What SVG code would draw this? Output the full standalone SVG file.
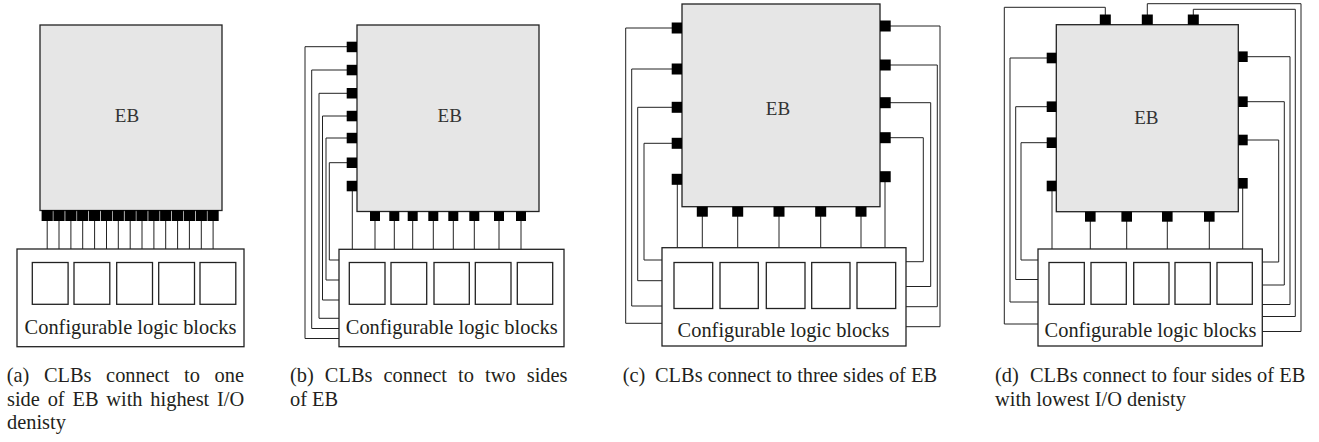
<svg xmlns="http://www.w3.org/2000/svg" width="1319" height="442" viewBox="0 0 1319 442">
<style>
.eb{fill:#e6e6e6;stroke:#222;stroke-width:1.3}
.pad{fill:#000}
.clb{fill:#fff;stroke:#222;stroke-width:1.3}
.cell{fill:#fff;stroke:#222;stroke-width:1.3}
.wire{fill:none;stroke:#222;stroke-width:1}
.t{font-family:"Liberation Serif","Times New Roman",serif;font-size:20.4px;fill:#231f20}
.ebt{font-family:"Liberation Serif","Times New Roman",serif;font-size:19px;fill:#333;text-anchor:middle}
.mid{text-anchor:middle}
</style>
<rect width="1319" height="442" fill="#fff"/>

<!-- ================= Panel (a) ================= -->
<g id="a-connectors" class="wire">
<path d="M47.2,221V249M59,221V249M70.9,221V249M82.7,221V249M94.6,221V249M106.5,221V249M118.3,221V249M130.2,221V249M142,221V249M153.9,221V249M165.7,221V249M177.6,221V249M189.4,221V249M201.3,221V249M213.1,221V249"/>
</g>
<g id="a-eb">
<rect class="eb" x="40" y="25" width="182" height="185.5"/>
<text class="ebt" x="127" y="122">EB</text>
<g class="pad">
<rect x="41.6" y="210" width="11.2" height="11"/><rect x="53.4" y="210" width="11.2" height="11"/><rect x="65.3" y="210" width="11.2" height="11"/><rect x="77.1" y="210" width="11.2" height="11"/><rect x="89" y="210" width="11.2" height="11"/><rect x="100.9" y="210" width="11.2" height="11"/><rect x="112.7" y="210" width="11.2" height="11"/><rect x="124.6" y="210" width="11.2" height="11"/><rect x="136.4" y="210" width="11.2" height="11"/><rect x="148.3" y="210" width="11.2" height="11"/><rect x="160.1" y="210" width="11.2" height="11"/><rect x="172" y="210" width="11.2" height="11"/><rect x="183.8" y="210" width="11.2" height="11"/><rect x="195.7" y="210" width="11.2" height="11"/><rect x="207.5" y="210" width="11.2" height="11"/>
</g>
</g>
<g id="a-clb">
<rect class="clb" x="17" y="249" width="227" height="97.7"/>
<rect class="cell" x="32.3" y="262.5" width="35.8" height="41.8"/>
<rect class="cell" x="74" y="262.5" width="35.8" height="41.8"/>
<rect class="cell" x="116.7" y="262.5" width="35.8" height="41.8"/>
<rect class="cell" x="158.7" y="262.5" width="35.8" height="41.8"/>
<rect class="cell" x="200" y="262.5" width="35.8" height="41.8"/>
<text class="t mid" x="130.5" y="334">Configurable logic blocks</text>
</g>
<g id="a-caption" class="t">
<text x="6.7" y="382" style="word-spacing:9.5px">(a) CLBs connect to one</text>
<text x="7" y="405.5" style="word-spacing:2.7px">side of EB with highest I/O</text>
<text x="7" y="429">denisty</text>
</g>

<!-- ================= Panel (b) ================= -->
<g id="b-connectors" class="wire">
<path d="M347,46.7H305V338.5H339"/>
<path d="M347,70H311.7V328.5H339"/>
<path d="M347,93.3H319H319V318.3H339"/>
<path d="M347,116H322.5V300H339"/>
<path d="M347,138H326V280H339"/>
<path d="M347,162.7H329.3V260H339"/>
<path d="M352.3,190V249.3"/>
<path d="M375,221V249.3M394.3,221V249.3M412.7,221V249.3M433.3,221V249.3M453.3,221V249.3M474.3,221V249.3M499,221V249.3M521,221V249.3"/>
</g>
<g id="b-eb">
<rect class="eb" x="357" y="25" width="182" height="186.5"/>
<text class="ebt" x="449.7" y="122.3">EB</text>
<g class="pad">
<rect x="346.7" y="41.7" width="10.3" height="10.5"/>
<rect x="346.7" y="64.8" width="10.3" height="10.5"/>
<rect x="346.7" y="88" width="10.3" height="10.5"/>
<rect x="346.7" y="110.8" width="10.3" height="10.5"/>
<rect x="346.7" y="132.8" width="10.3" height="10.5"/>
<rect x="346.7" y="157.5" width="10.3" height="10.5"/>
<rect x="346.7" y="180.8" width="10.3" height="10.5"/>
<rect x="370" y="211.5" width="10" height="9.5"/>
<rect x="389.3" y="211.5" width="10" height="9.5"/>
<rect x="407.7" y="211.5" width="10" height="9.5"/>
<rect x="428.3" y="211.5" width="10" height="9.5"/>
<rect x="448.3" y="211.5" width="10" height="9.5"/>
<rect x="469.3" y="211.5" width="10" height="9.5"/>
<rect x="494" y="211.5" width="10" height="9.5"/>
<rect x="516" y="211.5" width="10" height="9.5"/>
</g>
</g>
<g id="b-clb">
<rect class="clb" x="339" y="249.3" width="225" height="97.4"/>
<rect class="cell" x="349.3" y="262.5" width="35.7" height="41.8"/>
<rect class="cell" x="391" y="262.5" width="35.7" height="41.8"/>
<rect class="cell" x="434" y="262.5" width="35.3" height="41.8"/>
<rect class="cell" x="475.3" y="262.5" width="35.7" height="41.8"/>
<rect class="cell" x="517.3" y="262.5" width="35.4" height="41.8"/>
<text class="t mid" x="451.7" y="334">Configurable logic blocks</text>
</g>
<g id="b-caption" class="t">
<text x="290" y="382" style="word-spacing:6px">(b) CLBs connect to two sides</text>
<text x="290" y="405.5">of EB</text>
</g>

<!-- ================= Panel (c) ================= -->
<g id="c-connectors" class="wire">
<path d="M672,28H625.7V323.3H662"/>
<path d="M672,69H631.7V306H662"/>
<path d="M672,107.3H637.7V280.7H662"/>
<path d="M672,143.3H644V260H662"/>
<path d="M677.3,184V247.7"/>
<path d="M702.3,216V247.7M737.7,216V247.7M779,216V247.7M820.7,216V247.7M861,216V247.7"/>
<path d="M890,26H940V326.7H906"/>
<path d="M890,65H937.3V306.7H906"/>
<path d="M890,102.7H930.7V286.5H906"/>
<path d="M890,137.7H923.3V261.7H906"/>
<path d="M885,182V247.7"/>
</g>
<g id="c-eb">
<rect class="eb" x="682" y="4" width="198" height="202.7"/>
<text class="ebt" x="778" y="114.5">EB</text>
<g class="pad">
<rect x="671.7" y="22.5" width="10.3" height="11"/>
<rect x="671.7" y="63.5" width="10.3" height="11"/>
<rect x="671.7" y="101.8" width="10.3" height="11"/>
<rect x="671.7" y="137.8" width="10.3" height="11"/>
<rect x="671.7" y="173.8" width="10.3" height="11"/>
<rect x="880" y="20.5" width="10.7" height="11"/>
<rect x="880" y="59.5" width="10.7" height="11"/>
<rect x="880" y="97.2" width="10.7" height="11"/>
<rect x="880" y="132.2" width="10.7" height="11"/>
<rect x="880" y="171.2" width="10.7" height="11"/>
<rect x="696.8" y="206.7" width="11" height="10"/>
<rect x="732.2" y="206.7" width="11" height="10"/>
<rect x="773.5" y="206.7" width="11" height="10"/>
<rect x="815.2" y="206.7" width="11" height="10"/>
<rect x="855.5" y="206.7" width="11" height="10"/>
</g>
</g>
<g id="c-clb">
<rect class="clb" x="662" y="247.7" width="244" height="98.3"/>
<rect class="cell" x="674" y="262.5" width="38.7" height="46"/>
<rect class="cell" x="720" y="262.5" width="38.3" height="46"/>
<rect class="cell" x="766.3" y="262.5" width="38.7" height="46"/>
<rect class="cell" x="811.7" y="262.5" width="38.3" height="46"/>
<rect class="cell" x="857" y="262.5" width="38.7" height="46"/>
<text class="t mid" x="783.5" y="336.5">Configurable logic blocks</text>
</g>
<g id="c-caption" class="t">
<text y="382"><tspan x="622.7">(c)</tspan><tspan x="655">CLBs connect to three sides of EB</tspan></text>
</g>

<!-- ================= Panel (d) ================= -->
<g id="d-connectors" class="wire">
<path d="M1105.3,15V7.3H1004.3V324H1038"/>
<path d="M1147.3,15V3.7H1301V331.5H1262.3"/>
<path d="M1193.3,15V9.3H1295.3V316.5H1262.3"/>
<path d="M1047,58H1010V302H1038"/>
<path d="M1047,106.7H1015.7V279.5H1038"/>
<path d="M1047,142.7H1021V260H1038"/>
<path d="M1052,190V249"/>
<path d="M1090.3,221V249M1126.7,221V249M1167.3,221V249M1209.3,221V249"/>
<path d="M1247,56.7H1290V304.5H1262.3"/>
<path d="M1247,101.7H1284.3V285H1262.3"/>
<path d="M1247,140H1278.7V262H1262.3"/>
<path d="M1242.7,188V249"/>
</g>
<g id="d-eb">
<rect class="eb" x="1056.3" y="24.7" width="182" height="187"/>
<text class="ebt" x="1146.3" y="124.3">EB</text>
<g class="pad">
<rect x="1099.8" y="14.5" width="11" height="10.2"/>
<rect x="1141.8" y="14.5" width="11" height="10.2"/>
<rect x="1187.8" y="14.5" width="11" height="10.2"/>
<rect x="1046.7" y="52.7" width="9.6" height="10.6"/>
<rect x="1046.7" y="101.4" width="9.6" height="10.6"/>
<rect x="1046.7" y="137.4" width="9.6" height="10.6"/>
<rect x="1046.7" y="180.7" width="9.6" height="10.6"/>
<rect x="1238.3" y="51.4" width="9.4" height="10.6"/>
<rect x="1238.3" y="96.4" width="9.4" height="10.6"/>
<rect x="1238.3" y="134.7" width="9.4" height="10.6"/>
<rect x="1238.3" y="178" width="9.4" height="10.6"/>
<rect x="1085" y="211.7" width="10.6" height="10"/>
<rect x="1121.4" y="211.7" width="10.6" height="10"/>
<rect x="1162" y="211.7" width="10.6" height="10"/>
<rect x="1204" y="211.7" width="10.6" height="10"/>
</g>
</g>
<g id="d-clb">
<rect class="clb" x="1038" y="249" width="224.3" height="97"/>
<rect class="cell" x="1049" y="262.5" width="35.3" height="41.8"/>
<rect class="cell" x="1091" y="262.5" width="35.3" height="41.8"/>
<rect class="cell" x="1133.7" y="262.5" width="35.3" height="41.8"/>
<rect class="cell" x="1175" y="262.5" width="35.3" height="41.8"/>
<rect class="cell" x="1217" y="262.5" width="35.3" height="41.8"/>
<text class="t mid" x="1150.5" y="336.5">Configurable logic blocks</text>
</g>
<g id="d-caption" class="t">
<text y="382"><tspan x="995">(d)</tspan><tspan x="1030">CLBs connect to four sides of EB</tspan></text>
<text x="995" y="405.5">with lowest I/O denisty</text>
</g>
</svg>
